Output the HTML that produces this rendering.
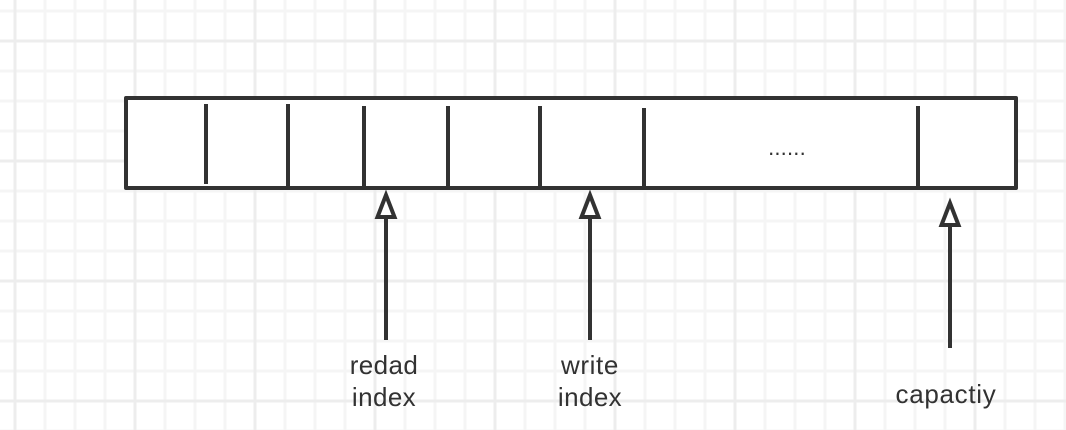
<!DOCTYPE html>
<html lang="en">
<head>
<meta charset="utf-8">
<title>Buffer diagram</title>
<style>
html,body{margin:0;padding:0;background:#fff;width:1066px;height:430px;overflow:hidden}
svg{display:block}
text{font-family:"Liberation Sans",sans-serif;font-size:26px;fill:#323232;text-anchor:middle;letter-spacing:.4px}
</style>
</head>
<body>
<svg width="1066" height="430" viewBox="0 0 1066 430" xmlns="http://www.w3.org/2000/svg">
<defs>
<pattern id="minor" x="13.5" y="9.5" width="30" height="30" patternUnits="userSpaceOnUse">
<path d="M1.5 0V30M0 1.5H30" stroke="#f5f5f5" stroke-width="3" fill="none"/>
</pattern>
<pattern id="major" x="13.5" y="39.5" width="120" height="120" patternUnits="userSpaceOnUse">
<path d="M1.5 0V120M0 1.5H120" stroke="#ededed" stroke-width="3" fill="none"/>
</pattern>
</defs>
<rect width="1066" height="430" fill="url(#minor)"/>
<rect width="1066" height="430" fill="url(#major)"/>

<rect x="126" y="98" width="890" height="90" fill="#fff" stroke="#323232" stroke-width="4" stroke-linejoin="round"/>

<g stroke="#323232" stroke-width="4" fill="none">
<line x1="206" y1="104" x2="206" y2="184"/>
<line x1="288" y1="104" x2="288" y2="188"/>
<line x1="364" y1="106" x2="364" y2="188"/>
<line x1="448" y1="106" x2="448" y2="188"/>
<line x1="540" y1="106" x2="540" y2="188"/>
<line x1="644" y1="108" x2="644" y2="188"/>
<line x1="918" y1="106" x2="918" y2="188"/>

<g>
<line x1="386" y1="340" x2="386" y2="217"/>
<path d="M386 195L377.500 217H394.500Z" fill="#fff"/>
</g>
<g>
<line x1="590" y1="340" x2="590" y2="217"/>
<path d="M590 195L581.500 217H598.500Z" fill="#fff"/>
</g>
<g>
<line x1="950" y1="348" x2="950" y2="225"/>
<path d="M950 203L941.500 225H958.500Z" fill="#fff"/>
</g>
</g>

<text x="787" y="155" style="font-size:22px;letter-spacing:.2px">......</text>
<text x="384" y="374">redad</text>
<text x="384" y="406">index</text>
<text x="590" y="374" style="letter-spacing:.6px">write</text>
<text x="590" y="406">index</text>
<text x="946" y="403" style="letter-spacing:.7px">capactiy</text>
</svg>
</body>
</html>
